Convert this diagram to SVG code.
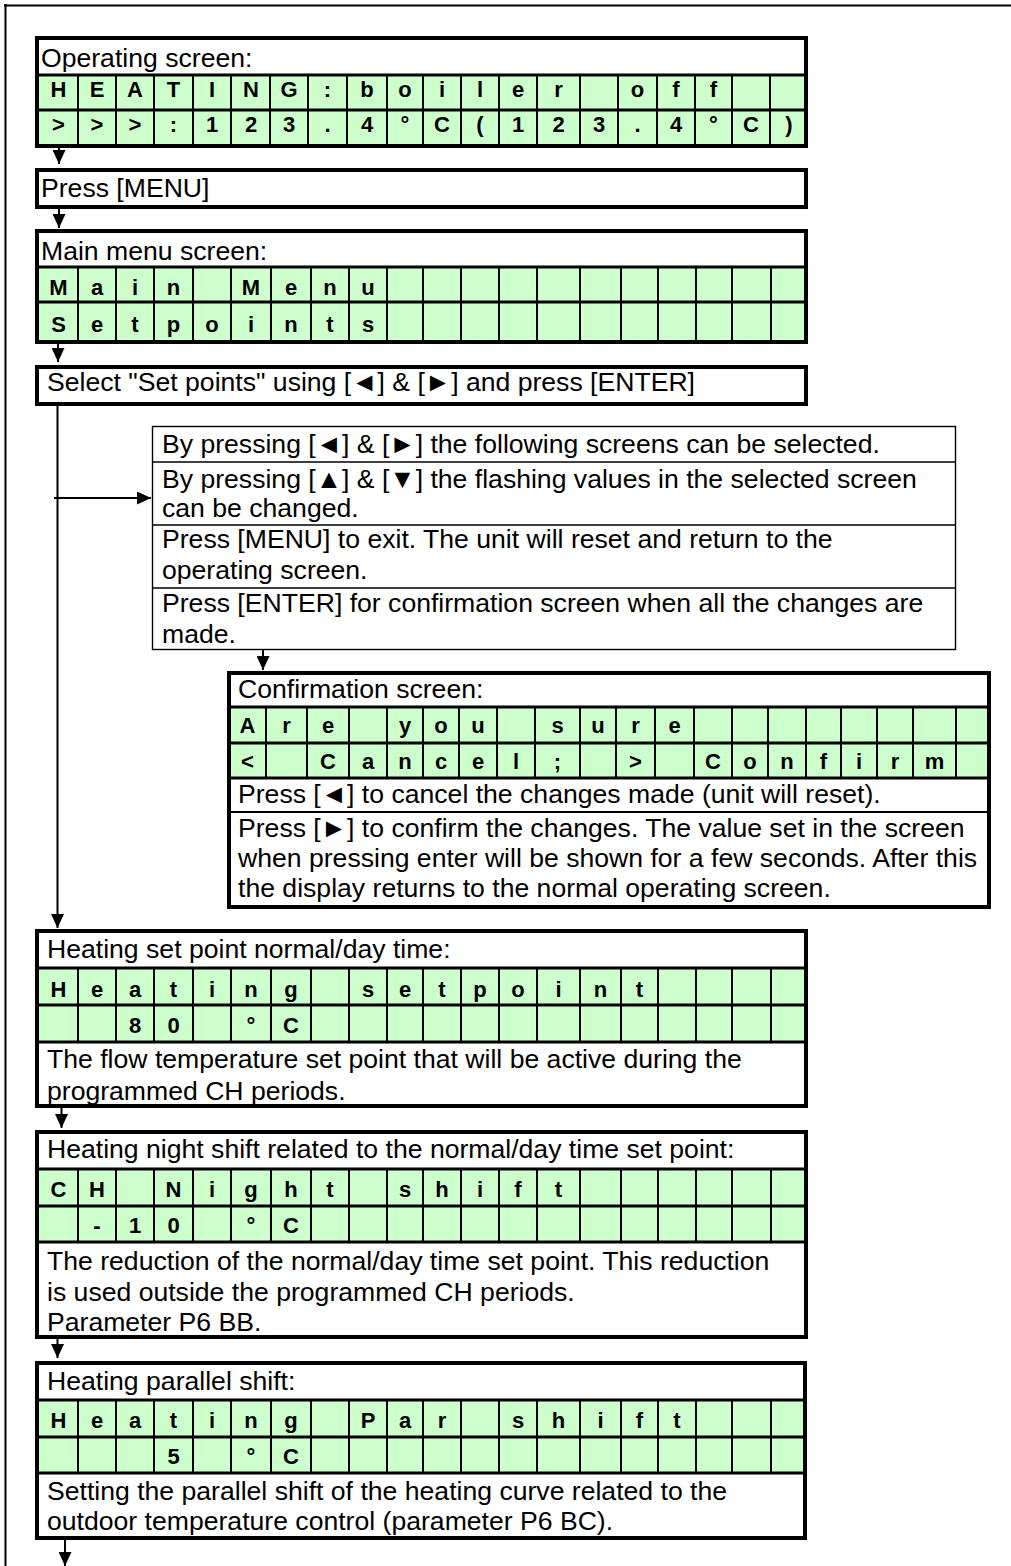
<svg xmlns="http://www.w3.org/2000/svg" width="1011" height="1566" viewBox="0 0 1011 1566">
<style>
.bg{fill:#fff}
.box{fill:none;stroke:#000;stroke-width:4}
.thin{fill:none;stroke:#000;stroke-width:1.4}
.g{fill:#ccffcc}
.hl{stroke:#000;stroke-width:3}
.vl{stroke:#000;stroke-width:2}
.il{stroke:#000;stroke-width:1.4}
.t{font-family:"Liberation Sans",Arial,"DejaVu Sans",sans-serif;font-size:26.6px;fill:#000}
.c{font-family:"Liberation Sans",Arial,"DejaVu Sans",sans-serif;font-size:22px;font-weight:bold;text-anchor:middle;fill:#000}
.cn{stroke:#000;stroke-width:2;fill:none}
</style>
<defs>
<marker id="ah" viewBox="0 0 14 13" refX="14" refY="6.5" markerWidth="14" markerHeight="13" markerUnits="userSpaceOnUse" orient="auto">
<path d="M0,0 L14,6.5 L0,13 z" fill="#000"/>
</marker>
</defs>
<rect x="0" y="0" width="1011" height="1566" fill="#fff"/>
<g id="frame">
<path d="M4,5.5H1011 M5.5,4V1566" stroke="#000" stroke-width="2" fill="none"/>
</g>

<g id="operating">
<rect x="37" y="38" width="769" height="108" class="bg"/>
<rect x="39" y="75" width="767" height="70" class="g"/>
<path class="vl" d="M78,75V145 M116,75V145 M154,75V145 M193,75V145 M231,75V145 M270,75V145 M308,75V145 M347,75V145 M387,75V145 M423,75V145 M461,75V145 M499,75V145 M537,75V145 M580,75V145 M618,75V145 M657,75V145 M695,75V145 M732,75V145 M770,75V145"/>
<path class="hl" d="M37,75H806 M37,110H806"/>
<rect x="37" y="38" width="769" height="108" class="box"/>
<text class="t" x="41" y="67">Operating screen:</text>
<text class="c" y="97" x="58.5 97 135 173.5 212 251 289 327.5 367 405 442 480 518 558.5 637.5 676 713.5">HEATING:boileroff</text>
<text class="c" y="132" x="58.5 97 135 173.5 212 251 289 327.5 367 405 442 480 518 558.5 599 637.5 676 713.5 751 789">&gt;&gt;&gt;:123.4°C(123.4°C)</text>
</g>

<g id="press-menu">
<rect x="37" y="170" width="769" height="37" class="bg"/>
<rect x="37" y="170" width="769" height="37" class="box"/>
<text class="t" x="41" y="197">Press [MENU]</text>
</g>

<g id="main-menu">
<rect x="37" y="231" width="769" height="111" class="bg"/>
<rect x="39" y="267" width="767" height="74" class="g"/>
<path class="vl" d="M78,267V342 M116,267V342 M154,267V342 M193,267V342 M231,267V342 M271,267V342 M311,267V342 M349,267V342 M387,267V342 M423,267V342 M461,267V342 M499,267V342 M537,267V342 M580,267V342 M621,267V342 M658,267V342 M696,267V342 M732,267V342 M771,267V342"/>
<path class="hl" d="M37,267H806 M37,302H806"/>
<rect x="37" y="231" width="769" height="111" class="box"/>
<text class="t" x="41" y="260">Main menu screen:</text>
<text class="c" y="295" x="58.5 97 135 173.5 251 291 330 368">MainMenu</text>
<text class="c" y="332" x="58.5 97 135 173.5 212 251 291 330 368">Setpoints</text>
</g>

<g id="select">
<rect x="37" y="367" width="769" height="37" class="bg"/>
<rect x="37" y="367" width="769" height="37" class="box"/>
<text class="t" x="47" y="391">Select "Set points" using [◄] &amp; [►] and press [ENTER]</text>
</g>

<g id="info">
<rect x="152.5" y="426.5" width="803" height="223" class="bg"/>
<path class="il" d="M152.5,462H955.5 M152.5,525H955.5 M152.5,588H955.5"/>
<rect x="152.5" y="426.5" width="803" height="223" class="thin"/>
<text class="t" x="162" y="453">By pressing [◄] &amp; [►] the following screens can be selected.</text>
<text class="t" x="162" y="488">By pressing [▲] &amp; [▼] the flashing values in the selected screen</text>
<text class="t" x="162" y="517">can be changed.</text>
<text class="t" x="162" y="548">Press [MENU] to exit. The unit will reset and return to the</text>
<text class="t" x="162" y="579">operating screen.</text>
<text class="t" x="162" y="612">Press [ENTER] for confirmation screen when all the changes are</text>
<text class="t" x="162" y="643">made.</text>
</g>

<g id="confirmation">
<rect x="229" y="673" width="760" height="234" class="bg"/>
<rect x="229" y="707" width="760" height="71" class="g"/>
<path class="vl" d="M266,707V778 M307,707V778 M349,707V778 M387,707V778 M423,707V778 M459,707V778 M497,707V778 M535,707V778 M580,707V778 M616,707V778 M655,707V778 M694,707V778 M732,707V778 M768,707V778 M806,707V778 M841,707V778 M877,707V778 M913,707V778 M956,707V778"/>
<path class="hl" d="M229,707H989 M229,743H989 M229,778H989"/>
<path class="vl" d="M229,812H989"/>
<rect x="229" y="673" width="760" height="234" class="box"/>
<text class="t" x="238" y="698">Confirmation screen:</text>
<text class="c" y="733" x="247.5 286.5 328 405 441 478 557.5 598 635.5 674.5">Areyousure</text>
<text class="c" y="769" x="247.5 328 368 405 441 478 516 557.5 635.5 713 750 787 823.5 859 895 934.5">&lt;Cancel;&gt;Confirm</text>
<text class="t" x="238" y="803">Press [◄] to cancel the changes made (unit will reset).</text>
<text class="t" x="238" y="837">Press [►] to confirm the changes. The value set in the screen</text>
<text class="t" x="238" y="867">when pressing enter will be shown for a few seconds. After this</text>
<text class="t" x="238" y="897">the display returns to the normal operating screen.</text>
</g>

<g id="heating-setpoint">
<rect x="37" y="931" width="769" height="175" class="bg"/>
<rect x="39" y="968" width="767" height="74" class="g"/>
<path class="vl" d="M78,968V1042 M116,968V1042 M154,968V1042 M193,968V1042 M231,968V1042 M271,968V1042 M311,968V1042 M349,968V1042 M387,968V1042 M423,968V1042 M461,968V1042 M499,968V1042 M537,968V1042 M580,968V1042 M621,968V1042 M658,968V1042 M696,968V1042 M732,968V1042 M771,968V1042"/>
<path class="hl" d="M37,968H806 M37,1005H806 M37,1042H806"/>
<rect x="37" y="931" width="769" height="175" class="box"/>
<text class="t" x="47" y="958">Heating set point normal/day time:</text>
<text class="c" y="997" x="58.5 97 135 173.5 212 251 291 368 405 442 480 518 558.5 600.5 639.5">Heatingsetpoint</text>
<text class="c" y="1033" x="135 173.5 251 291">80°C</text>
<text class="t" x="47" y="1068">The flow temperature set point that will be active during the</text>
<text class="t" x="47" y="1100">programmed CH periods.</text>
</g>

<g id="night-shift">
<rect x="37" y="1132" width="769" height="205" class="bg"/>
<rect x="39" y="1169" width="767" height="73" class="g"/>
<path class="vl" d="M78,1169V1242 M116,1169V1242 M154,1169V1242 M193,1169V1242 M231,1169V1242 M271,1169V1242 M311,1169V1242 M349,1169V1242 M387,1169V1242 M423,1169V1242 M461,1169V1242 M499,1169V1242 M537,1169V1242 M580,1169V1242 M621,1169V1242 M658,1169V1242 M696,1169V1242 M732,1169V1242 M771,1169V1242"/>
<path class="hl" d="M37,1169H806 M37,1206H806 M37,1242H806"/>
<rect x="37" y="1132" width="769" height="205" class="box"/>
<text class="t" x="47" y="1158">Heating night shift related to the normal/day time set point:</text>
<text class="c" y="1197" x="58.5 97 173.5 212 251 291 330 405 442 480 518 558.5">CHNightshift</text>
<text class="c" y="1233" x="97 135 173.5 251 291">-10°C</text>
<text class="t" x="47" y="1270">The reduction of the normal/day time set point. This reduction</text>
<text class="t" x="47" y="1301">is used outside the programmed CH periods.</text>
<text class="t" x="47" y="1331">Parameter P6 BB.</text>
</g>

<g id="parallel-shift">
<rect x="37" y="1363" width="768" height="175" class="bg"/>
<rect x="39" y="1400" width="766" height="73" class="g"/>
<path class="vl" d="M78,1400V1473 M116,1400V1473 M154,1400V1473 M193,1400V1473 M231,1400V1473 M271,1400V1473 M311,1400V1473 M349,1400V1473 M387,1400V1473 M423,1400V1473 M461,1400V1473 M499,1400V1473 M537,1400V1473 M580,1400V1473 M621,1400V1473 M658,1400V1473 M696,1400V1473 M732,1400V1473 M771,1400V1473"/>
<path class="hl" d="M37,1400H805 M37,1437H805 M37,1473H805"/>
<rect x="37" y="1363" width="768" height="175" class="box"/>
<text class="t" x="47" y="1390">Heating parallel shift:</text>
<text class="c" y="1428" x="58.5 97 135 173.5 212 251 291 368 405 442 518 558.5 600.5 639.5 677">HeatingParshift</text>
<text class="c" y="1464" x="173.5 251 291">5°C</text>
<text class="t" x="47" y="1500">Setting the parallel shift of the heating curve related to the</text>
<text class="t" x="47" y="1530">outdoor temperature control (parameter P6 BC).</text>
</g>

<g id="connectors">
<path class="cn" marker-end="url(#ah)" d="M59,148V164"/>
<path class="cn" marker-end="url(#ah)" d="M59,209V228"/>
<path class="cn" marker-end="url(#ah)" d="M58,344V362"/>
<path class="cn" marker-end="url(#ah)" d="M57.5,406V928"/>
<path class="cn" marker-end="url(#ah)" d="M54,498H151"/>
<path class="cn" marker-end="url(#ah)" d="M263,650V670"/>
<path class="cn" marker-end="url(#ah)" d="M61.5,1108V1128"/>
<path class="cn" marker-end="url(#ah)" d="M57.5,1339V1358"/>
<path class="cn" marker-end="url(#ah)" d="M65,1540V1566"/>
</g>
</svg>
